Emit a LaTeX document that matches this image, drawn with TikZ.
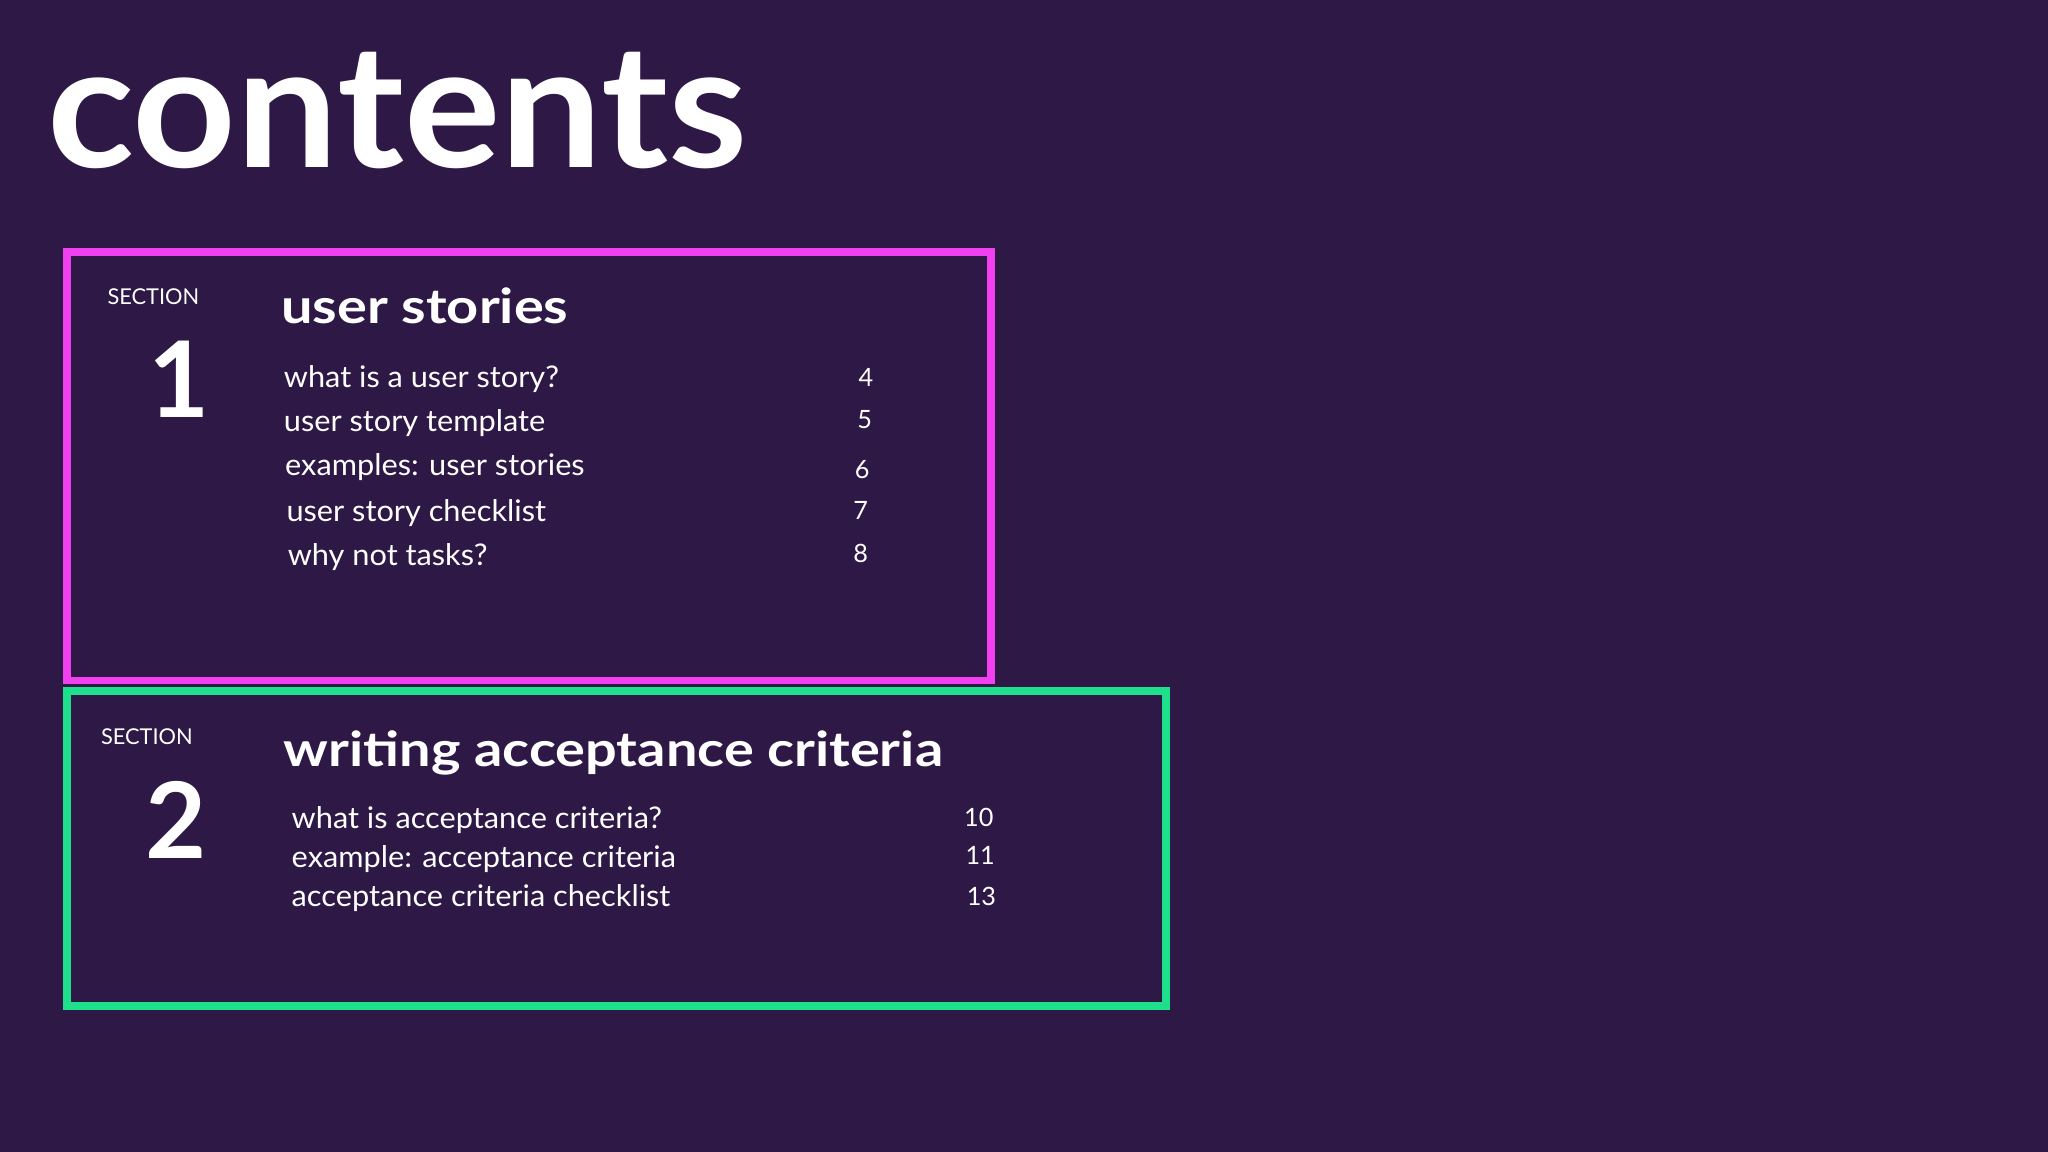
\documentclass[tikz,border=0pt]{standalone}
\usepackage{fontspec}
\setmainfont{Lato}
\newfontfamily\tfont[FakeStretch=1.05]{Lato}
\newfontfamily\hfont[FakeStretch=1.16]{Lato}
\newfontfamily\ifont[FakeStretch=1.03]{Lato}
\definecolor{bg}{HTML}{2D1846}
\definecolor{pk}{HTML}{F040F0}
\definecolor{gn}{HTML}{1EE08C}
\begin{document}
\begin{tikzpicture}[x=0.02cm,y=-0.02cm,
  sec/.style={text=white,font=\fontsize{9.5}{11}\selectfont,anchor=base west,inner sep=0},
  num/.style={text=white,font=\fontsize{46}{50}\bfseries\selectfont,anchor=base,inner sep=0},
  ttl/.style={text=white,font=\hfont\fontsize{21}{24}\bfseries\selectfont,anchor=base west,inner sep=0},
  item/.style={text=white,font=\ifont\fontsize{13}{16}\selectfont,anchor=base west,inner sep=0},
  pg/.style={text=white,font=\fontsize{11}{13}\selectfont,anchor=base east,inner sep=0}]
\fill[bg] (0,0) rectangle (1568,882);
\useasboundingbox (0,0) rectangle (1568,882);
\node[text=white,font=\tfont\fontsize{75}{80}\bfseries\selectfont,anchor=base west,inner sep=0] (title) at (36,128) {contents};
\draw[pk,line width=0.12cm] (51,193) rectangle (759,521);
\draw[gn,line width=0.12cm] (51,529) rectangle (893,770);
\node[sec] (s1) at (82,233) {SECTION};
\node[num] (n1) at (137,320) {1};
\node[ttl] (t1) at (215,248) {user stories};
\node[item] (a1) at (217,297) {what is a user story?};
\node[item] (a2) at (217,330) {user story template};
\node[item] (a3) at (218,364) {examples: user stories};
\node[item] (a4) at (219,399) {user story checklist};
\node[item] (a5) at (220,433) {why not tasks?};
\node[pg] (p1) at (669,296) {4};
\node[pg] (p2) at (668,328) {5};
\node[pg] (p3) at (666,366) {6};
\node[pg] (p4) at (665,398) {7};
\node[pg] (p5) at (665,431) {8};
\node[sec] (s2) at (77,570) {SECTION};
\node[num] (n2) at (135,657) {2};
\node[ttl] (t2) at (217,587) {writing acceptance criteria};
\node[item] (b1) at (223,634) {what is acceptance criteria?};
\node[item] (b2) at (223,664) {example: acceptance criteria};
\node[item] (b3) at (223,694) {acceptance criteria checklist};
\node[pg] (q1) at (761,633) {10};
\node[pg] (q2) at (762,662) {11};
\node[pg] (q3) at (763,693) {13};
\end{tikzpicture}
\end{document}
